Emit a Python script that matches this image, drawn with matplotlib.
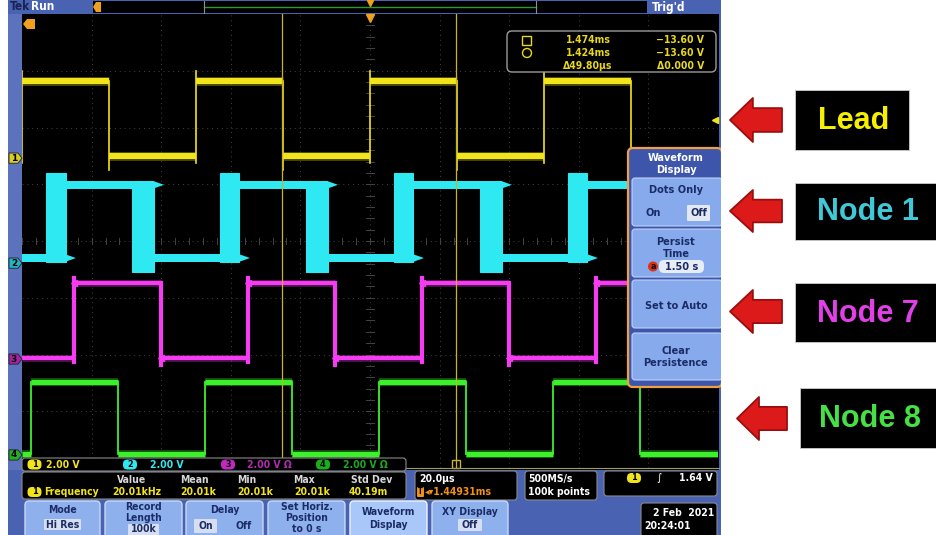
import matplotlib
matplotlib.use("Agg")
import matplotlib.pyplot as plt
from matplotlib.patches import FancyBboxPatch, Rectangle, Polygon, Circle
import matplotlib.transforms as mtransforms

# ================= data =================
time_per_div_us = 20.0
h_divs = 10
v_divs = 8

lead_rise_us = [-100.0, -50.0, 0.0, 50.0]
lead_fall_us = [-75.0, -25.0, 25.0, 75.0]
lead_low_div, lead_high_div = 1.50, 2.82

node1_rise_us = [-93.0, -43.0, 7.0, 57.0]
node1_fall_us = [-68.5, -18.5, 31.5, 81.5]
node1_rise_spread_us = 5.5
node1_fall_spread_us = 6.3
node1_tail_us = 3.0
node1_low_div, node1_high_div = -0.30, 0.99
node1_min_div, node1_max_div = -0.55, 1.20

node7_rise_us = [-85.0, -35.0, 15.0, 65.0]
node7_fall_us = [-60.0, -10.0, 40.0, 90.0]
node7_low_div, node7_high_div = -2.06, -0.74

node8_rise_us = [-97.5, -47.5, 2.5, 52.5]
node8_fall_us = [-72.5, -22.5, 27.5, 77.5]
node8_low_div, node8_high_div = -3.75, -2.48

channel_ids = ["1", "2", "3", "4"]
channel_offset_div = [1.46, -0.39, -2.08, -3.77]
channel_scale = ["2.00 V", "2.00 V", "2.00 V \u03a9", "2.00 V \u03a9"]

cursor_time_ms = [1.474, 1.424]
cursor_volt = ["\u221213.60 V", "\u221213.60 V"]
cursor_delta = ["\u039449.80\u00b5s", "\u03940.000 V"]
trigger_pos_ms = 1.44931
trigger_level_div = 2.13
trigger_level = "1.64 V"

meas_name = "Frequency"
meas_headers = ["Value", "Mean", "Min", "Max", "Std Dev"]
meas_values = ["20.01kHz", "20.01k", "20.01k", "20.01k", "40.19m"]

horiz_scale = "20.0\u00b5s"
horiz_pos = "1.44931ms"
sample_rate = "500MS/s"
record_points = "100k points"
date_text = "2 Feb  2021"
time_text = "20:24:01"

annotation_labels = ["Lead", "Node 1", "Node 7", "Node 8"]

# ================= colours =================
YEL, CYA, MAG, GRN = "#f2e41a", "#2ee8f2", "#f53cf2", "#3cf02a"
LABEL_COLORS = ["#f4f000", "#40c8d8", "#e040e6", "#44e044"]
FRAME = "#4a62b2"
BTN = "#8eb1ee"
BTN_TXT = "#1b2b66"

W, H = 937, 535
fig = plt.figure(figsize=(W / 100, H / 100), dpi=100, facecolor="white")


def pixel_axes(z):
    ax = fig.add_axes([0, 0, 1, 1])
    ax.set_zorder(z)
    ax.set_xlim(0, W)
    ax.set_ylim(H, 0)
    ax.axis("off")
    return ax


bg = pixel_axes(0)
GX0, GX1, GY0, GY1 = 22, 718, 14, 468
wave = fig.add_axes([GX0 / W, 1 - GY1 / H, (GX1 - GX0) / W, (GY1 - GY0) / H])
wave.set_zorder(1)
half_t = h_divs / 2 * time_per_div_us
wave.set_xlim(-half_t, half_t)
wave.set_ylim(-v_divs / 2, v_divs / 2)
wave.axis("off")
fg = pixel_axes(2)


def box(ax, x0, y0, x1, y1, fc, ec="none", lw=0.8, r=3, z=2):
    ax.add_patch(FancyBboxPatch((x0, y0), x1 - x0, y1 - y0,
                                boxstyle=f"round,pad=0,rounding_size={r}",
                                fc=fc, ec=ec, lw=lw, zorder=z))


def txt(x, y, s, c="white", fs=7, ha="left", va="center", fw="bold", ax=None, z=6, **kw):
    ax = ax or fg
    ax.text(x, y, s, color=c, fontsize=fs, ha=ha, va=va, fontweight=fw,
            fontstretch="condensed", zorder=z, **kw)


def badge(x, y, s, fc, tc="black", w=14, h=10):
    box(fg, x - w / 2, y - h / 2, x + w / 2, y + h / 2, fc, r=h / 2 - 0.5, z=5)
    txt(x, y, s, tc, fs=6.5, ha="center")


# ================= scope frame / background =================
bg.add_patch(Rectangle((8, 0), 713, H, fc=FRAME, ec="none"))
bg.add_patch(Rectangle((8, 14), 14, 456, fc="#5d72bc", ec="none"))
bg.add_patch(Rectangle((GX0, GY0), 697, 456, fc="black", ec="none"))
bg.add_patch(Rectangle((93, 1), 554, 12, fc="black", ec="none"))
bg.plot([204, 536], [7, 7], color="#2c9a2c", lw=1.0)
for xx in (204, 536):
    bg.plot([xx, xx], [1, 13], color="#8c8ca0", lw=0.8)
bg.plot([370], [2.5], marker="v", color="#f0a020", ms=4)
bg.add_patch(Polygon([(93, 7), (96, 2), (101, 2), (101, 12), (96, 12)], fc="#f0a020", ec="none"))
txt(10, 7, "Tek", "#1a2350", fs=8.5, ax=bg)
txt(31, 7, "Run", "white", fs=8.5, ax=bg)
txt(652, 7, "Trig'd", "white", fs=8.5, ax=bg)
bg.add_patch(Polygon([(23, 24), (27, 19), (35, 19), (35, 29), (27, 29)], fc="#f0a020", ec="none", zorder=3))

# ================= graticule =================
GRID = "#444444"
for i in range(1, h_divs):
    x = -half_t + i * time_per_div_us
    wave.plot([x, x], [-v_divs / 2, v_divs / 2], color=GRID, lw=0.7, ls=(0, (1, 4)), zorder=1)
for j in range(1, v_divs):
    y = -v_divs / 2 + j
    wave.plot([-half_t, half_t], [y, y], color=GRID, lw=0.7, ls=(0, (1, 4)), zorder=1)
for k in range(-h_divs * 5 // 2, h_divs * 5 // 2 + 1):
    x = k * time_per_div_us / 5
    wave.plot([x, x], [-0.05, 0.05], color=GRID, lw=0.7, zorder=1)
for k in range(-v_divs * 5 // 2, v_divs * 5 // 2 + 1):
    y = k / 5
    wave.plot([-1.2, 1.2], [y, y], color=GRID, lw=0.7, zorder=1)


# ================= waveforms =================
def hseg(x0, x1, y, color, lw):
    wave.plot([x0, x1], [y, y], color=color, lw=lw + 2.0, alpha=0.3, solid_capstyle="butt", zorder=3)
    wave.plot([x0, x1], [y, y], color=color, lw=lw, solid_capstyle="butt", zorder=3)


def draw_square(rises, falls, lo, hi, color, hlw, vlw, over=0.0, under=0.0):
    events = sorted([(t, 1) for t in rises] + [(t, 0) for t in falls])
    level = lo if events[0][1] == 1 else hi
    start = -half_t
    for t, up in events:
        hseg(start, t, level, color, hlw)
        if up:
            wave.plot([t, t], [lo - under * 0.5, hi + over], color=color, lw=vlw, zorder=3)
            level = hi
        else:
            wave.plot([t, t], [hi, lo - under], color=color, lw=vlw, zorder=3)
            level = lo
        start = t
    hseg(start, half_t, level, color, hlw)


# Lead (ch1, yellow)
draw_square(lead_rise_us, lead_fall_us, lead_low_div, lead_high_div, YEL, 4.4, 1.2, over=0.17, under=0.25)

# Node 1 (ch2, cyan) with jittered edges drawn as persistence blocks
band = 0.13
for r, f in zip(node1_rise_us, node1_fall_us):
    wave.add_patch(Rectangle((r, node1_low_div - band / 2), node1_rise_spread_us,
                             node1_max_div - node1_low_div + band / 2, fc=CYA, ec=CYA, lw=0.8,
                             zorder=3))
    hs, he = r + node1_rise_spread_us, f + node1_fall_spread_us
    wave.add_patch(Rectangle((hs, node1_high_div - band / 2), he - hs, band, fc=CYA, ec="none", zorder=3))
    wave.add_patch(Polygon([(he, node1_high_div - band / 2), (he + node1_tail_us, node1_high_div),
                            (he, node1_high_div + band / 2)], fc=CYA, ec="none", zorder=3))
    wave.add_patch(Rectangle((f, node1_min_div), node1_fall_spread_us,
                             node1_high_div - node1_min_div, fc=CYA, ec=CYA, lw=0.8, zorder=3))
low_starts = [-half_t] + [f + node1_fall_spread_us for f in node1_fall_us]
low_ends = [r + node1_rise_spread_us for r in node1_rise_us] + [half_t]
for s, e in zip(low_starts, low_ends):
    if e <= s:
        continue
    wave.add_patch(Rectangle((s, node1_low_div - band / 2), e - s, band, fc=CYA, ec="none", zorder=3))
    wave.add_patch(Polygon([(e, node1_low_div - band / 2), (e + node1_tail_us, node1_low_div),
                            (e, node1_low_div + band / 2)], fc=CYA, ec="none", zorder=3))

# Node 7 (ch3, magenta)
draw_square(node7_rise_us, node7_fall_us, node7_low_div, node7_high_div, MAG, 3.0, 3.0, over=0.09, under=0.13)
wave.plot(node7_rise_us, [node7_high_div] * len(node7_rise_us), ls="none", marker="<", ms=5, color=MAG, zorder=3)
wave.plot(node7_fall_us, [node7_low_div] * len(node7_fall_us), ls="none", marker="<", ms=5, color=MAG, zorder=3)

# Node 8 (ch4, green)
draw_square(node8_rise_us, node8_fall_us, node8_low_div, node8_high_div, GRN, 3.8, 1.3)

# cursors
for i, tm in enumerate(cursor_time_ms):
    t = (tm - trigger_pos_ms) * 1000.0
    wave.axvline(t, color="#c8b42a", lw=0.9, zorder=4)
    if i == 0:
        wave.plot([t], [-3.93], marker="s", mfc="none", mec="#c8b42a", ms=6, clip_on=False, zorder=4)
# trigger position and level markers
wave.plot([0], [3.93], marker="v", color="#f0a020", ms=6, clip_on=False, zorder=4)
wave.plot([half_t - 0.9], [trigger_level_div], marker="<", color=YEL, ms=5, clip_on=False, zorder=4)

# channel ground markers on the left strip
blend = mtransforms.blended_transform_factory(fg.transData, wave.transData)
mark_fc = ["#d8cc20", "#22b4c4", "#a424a4", "#24b024"]
for cid, off, fc in zip(channel_ids, channel_offset_div, mark_fc):
    h = 0.09
    fg.add_patch(Polygon([(9, off + h), (18, off + h), (22, off), (18, off - h), (9, off - h)],
                         closed=True, fc=fc, ec="#202020", lw=0.6, transform=blend, zorder=4))
    fg.text(14, off, cid, color="black", fontsize=6.5, fontweight="bold", ha="center", va="center",
            transform=blend, zorder=5)

# ================= cursor readout =================
CY = "#e8d820"
box(fg, 507, 31, 716, 72, "black", ec="#9a9a9a", lw=1.0, r=5)
fg.add_patch(Rectangle((522.5, 35.5), 9, 9, fill=False, ec=CY, lw=1.0, zorder=5))
fg.add_patch(Circle((527, 53), 4.5, fill=False, ec=CY, lw=1.0, zorder=5))
for row, (tm, v) in enumerate(zip(cursor_time_ms, cursor_volt)):
    txt(588, 40 + 13 * row, f"{tm:.3f}ms", CY, fs=7.5, ha="center")
    txt(704, 40 + 13 * row, v, CY, fs=7.5, ha="right")
txt(588, 66, cursor_delta[0], CY, fs=7.5, ha="center")
txt(704, 66, cursor_delta[1], CY, fs=7.5, ha="right")

# ================= channel bar =================
box(fg, 22, 458, 406, 471, "black", ec="#8a8a8a", lw=0.8, r=3)
badge_x = [34.5, 130, 228, 323]
text_x = [46, 150, 247, 343]
badge_fc = [YEL, CYA, "#c028c0", "#18b018"]
text_c = [YEL, CYA, "#b02cb0", "#1ea81e"]
for cid, bx, tx, bfc, tc, sc in zip(channel_ids, badge_x, text_x, badge_fc, text_c, channel_scale):
    badge(bx, 464.5, cid, bfc)
    txt(tx, 464.5, sc, tc, fs=7.5)
fg.plot([406, 719], [468, 468], color="#a09a6a", lw=0.8, zorder=3)

# ================= measurement bar =================
box(fg, 22, 472, 406, 499, "black", ec="#8a8a8a", lw=0.8, r=3)
for hx, hd in zip([132, 194, 247, 304, 372], meas_headers):
    txt(hx, 480, hd, "#d8d8d8", fs=7.5, ha="center")
badge(34.5, 492, channel_ids[0], YEL)
txt(44, 492, meas_name, YEL, fs=7.5)
for vx, vv in zip([137, 198, 255, 312, 368], meas_values):
    txt(vx, 492, vv, YEL, fs=7.5, ha="center")

# horizontal / acquisition / trigger boxes
box(fg, 415, 471, 517, 500, "black", ec="#8a8a8a", lw=0.8, r=3)
txt(419, 479, horiz_scale, "white", fs=7.5)
box(fg, 417, 487, 424, 497, "#f09018", r=1, z=5)
txt(420.5, 492, "T", "black", fs=5.5, ha="center")
txt(425, 492, "\u25c2\u25be" + horiz_pos, "#f09018", fs=7.5)
box(fg, 525, 471, 597, 500, "black", ec="#8a8a8a", lw=0.8, r=3)
txt(528, 479, sample_rate, "white", fs=7.5)
txt(528, 492, record_points, "white", fs=7.5)
box(fg, 604, 471, 717, 496, "black", ec="#8a8a8a", lw=0.8, r=3)
badge(634, 478, channel_ids[0], YEL)
txt(659, 478, "\u222b", "white", fs=8, ha="center", fw="normal")
txt(713, 478, trigger_level, "white", fs=7.5, ha="right")
box(fg, 641, 503, 717, 540, "black", ec="#8a8a8a", lw=0.8, r=3)
txt(714, 513, date_text, "white", fs=7.5, ha="right")
txt(644, 526, time_text, "white", fs=7.5)

# ================= bottom soft-key buttons =================
btn_x = [(25, 100), (105, 182), (186, 263), (268, 345), (350, 427), (432, 508)]
for i, (x0, x1) in enumerate(btn_x):
    fc = "#a9c7f8" if i == 4 else BTN
    ec = "#eef3ff" if i == 4 else "#c8d8f6"
    box(fg, x0, 501, x1, 545, fc, ec=ec, lw=1.0, r=4, z=3)
BS = 7.5
txt(62.5, 510, "Mode", BTN_TXT, fs=BS, ha="center")
box(fg, 44, 519, 81, 530, "#d6def0", r=1, z=4)
txt(62.5, 524.5, "Hi Res", BTN_TXT, fs=BS, ha="center")
txt(143.5, 507, "Record", BTN_TXT, fs=BS, ha="center")
txt(143.5, 518, "Length", BTN_TXT, fs=BS, ha="center")
box(fg, 128, 524, 159, 536, "#d6def0", r=1, z=4)
txt(143.5, 529.5, "100k", BTN_TXT, fs=BS, ha="center")
txt(224.5, 510, "Delay", BTN_TXT, fs=BS, ha="center")
box(fg, 194, 519, 217, 533, "#d6def0", r=1, z=4)
txt(205.5, 526, "On", BTN_TXT, fs=BS, ha="center")
txt(244, 526, "Off", BTN_TXT, fs=BS, ha="center")
txt(306.5, 507, "Set Horiz.", BTN_TXT, fs=BS, ha="center")
txt(306.5, 518, "Position", BTN_TXT, fs=BS, ha="center")
txt(306.5, 529, "to 0 s", BTN_TXT, fs=BS, ha="center")
txt(388.5, 512, "Waveform", BTN_TXT, fs=BS, ha="center")
txt(388.5, 525, "Display", BTN_TXT, fs=BS, ha="center")
txt(470, 512, "XY Display", BTN_TXT, fs=BS, ha="center")
box(fg, 458, 519, 482, 531, "#d6def0", r=1, z=4)
txt(470, 525, "Off", BTN_TXT, fs=BS, ha="center")

# ================= side menu =================
box(fg, 628, 148, 722, 387, "#3d55aa", ec="#f0a040", lw=1.6, r=5, z=3)
MS = 7.8
txt(676, 158, "Waveform", "white", fs=MS, ha="center")
txt(676, 170, "Display", "white", fs=MS, ha="center")
for y0, y1 in [(178, 226), (229, 277), (280, 328), (333, 380)]:
    box(fg, 632, y0, 722, y1, "#86aaec", ec="#c0d2f6", lw=0.8, r=3, z=4)
txt(676, 190, "Dots Only", BTN_TXT, fs=MS, ha="center")
txt(653, 213, "On", BTN_TXT, fs=MS, ha="center")
box(fg, 687, 205, 710, 221, "#e4e8f0", r=1, z=5)
txt(698.5, 213, "Off", BTN_TXT, fs=MS, ha="center")
txt(676, 242, "Persist", BTN_TXT, fs=MS, ha="center")
txt(676, 254, "Time", BTN_TXT, fs=MS, ha="center")
box(fg, 659, 260, 704, 273, "#e8ecf4", r=5, z=5)
fg.add_patch(Circle((653, 266.5), 5, fc="#e03010", ec="none", zorder=6))
txt(653, 266.5, "a", "#101010", fs=6.5, ha="center")
txt(682, 266.5, "1.50 s", BTN_TXT, fs=MS, ha="center")
txt(676, 306, "Set to Auto", BTN_TXT, fs=MS, ha="center")
txt(676, 351, "Clear", BTN_TXT, fs=MS, ha="center")
txt(676, 363, "Persistence", BTN_TXT, fs=MS, ha="center")

# ================= annotation panel =================
fg.add_patch(Rectangle((721, 0), W - 721, H, fc="white", ec="none", zorder=7))
arrows = [(730, 782, 98, 142), (730, 782, 190, 232), (730, 782, 290, 333), (737, 787, 397, 440)]
label_boxes = [(795, 909, 90, 150), (795, 937, 183, 240), (795, 937, 283, 342), (800, 937, 388, 448)]
for (ax0, ax1, ay0, ay1), (bx0, bx1, by0, by1), lab, lc in zip(arrows, label_boxes, annotation_labels, LABEL_COLORS):
    yc = (ay0 + ay1) / 2
    hw = 0.44 * (ax1 - ax0)
    sh = 0.27 * (ay1 - ay0)
    pts = [(ax0, yc), (ax0 + hw, ay0), (ax0 + hw, yc - sh), (ax1, yc - sh),
           (ax1, yc + sh), (ax0 + hw, yc + sh), (ax0 + hw, ay1)]
    fg.add_patch(Polygon(pts, closed=True, fc="#dc1a1a", ec="#9a0e0e", lw=1.3, joinstyle="round", zorder=8))
    fg.add_patch(Rectangle((bx0, by0), bx1 - bx0, by1 - by0, fc="black", ec="#cccccc", lw=0.6, zorder=8))
    fg.text((bx0 + bx1) / 2 + 2, (by0 + by1) / 2 + 1, lab, color=lc, fontsize=22, fontweight="bold",
            family="Liberation Sans", ha="center", va="center", zorder=9)

fig.savefig("out.png", dpi=100, facecolor="white")
